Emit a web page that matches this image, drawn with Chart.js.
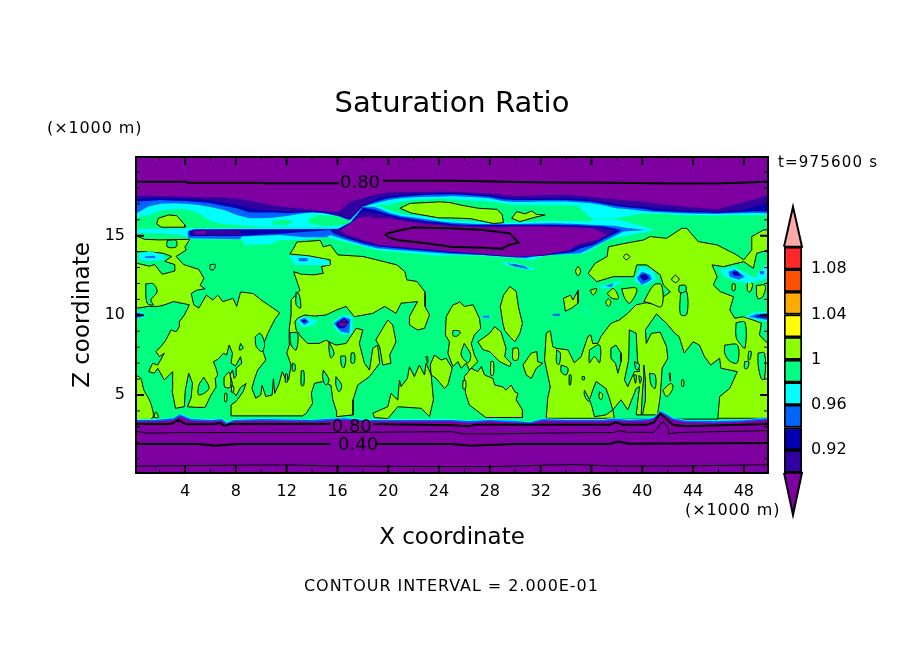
<!DOCTYPE html>
<html><head><meta charset="utf-8">
<script src="https://cdn.jsdelivr.net/npm/chart.js@4"></script>
<style>html,body{margin:0;padding:0;background:#fff;overflow:hidden}
#main{position:absolute;left:0;top:0}#bar{position:absolute;left:775px;top:200px}</style>
</head><body>
<canvas id="main" width="904" height="654"></canvas>
<canvas id="bar" width="100" height="325"></canvas>
<script>
// ---------- axis data ----------
const xMajor=[4,8,12,16,20,24,28,32,36,40,44,48];
const xMinor=[2,6,10,14,18,22,26,30,34,38,42,46];
const zMajor=[5,10,15];
const zMinor=[1,2,3,4,6,7,8,9,11,12,13,14,16,17,18,19];
const levels=[0.90,0.92,0.94,0.96,0.98,1.00,1.02,1.04,1.06,1.08,1.10];
const colorbarTicks=[0.92,0.96,1,1.04,1.08];
// ---------- upper band: z of the lower edge of each class at x = 0..50 km ----------
const xU=[0,1,2,3,4,5,6,7,8,9,10,11,12,13,14,15,16,17,18,19,20,21,22,23,24,25,26,27,28,29,30,31,32,33,34,35,36,37,38,39,40,41,42,43,44,45,46,47,48,49,50];
const uPurple=[17.38,17.38,17.36,17.34,17.32,17.3,17.28,17.26,17.2,17.07,16.91,16.74,16.66,16.58,16.49,16.43,16.37,17.01,17.22,17.43,17.57,17.59,17.61,17.61,17.63,17.63,17.59,17.55,17.51,17.43,17.36,17.38,17.4,17.43,17.43,17.38,17.32,17.22,17.16,17.07,17.01,16.91,16.8,16.74,16.66,16.6,16.53,16.74,16.95,17.16,17.43];
const uIndigo=[17.16,17.22,17.22,17.2,17.18,17.14,17.07,16.95,16.8,16.6,16.49,16.45,16.39,16.39,16.41,16.33,16.16,15.98,16.7,17.16,17.36,17.43,17.47,17.49,17.53,17.55,17.51,17.47,17.4,17.28,17.2,17.2,17.2,17.22,17.22,17.18,17.11,16.97,16.85,16.74,16.7,16.6,16.53,16.49,16.43,16.39,16.35,16.41,16.49,16.7,16.91];
const uDark=[17.01,17.05,17.11,17.07,17.05,16.99,16.91,16.74,16.6,16.33,16.33,16.33,16.29,16.33,16.37,16.29,16.14,15.87,16.7,17.01,17.22,17.32,17.38,17.43,17.45,17.47,17.43,17.38,17.32,17.16,17.11,17.11,17.11,17.11,17.11,17.07,17.01,16.87,16.74,16.64,16.58,16.45,16.41,16.37,16.33,16.33,16.29,16.33,16.37,16.41,16.39];
const uBlue=[16.25,16.7,16.87,16.91,16.87,16.8,16.66,16.49,16.18,15.98,15.98,16.02,16.12,16.25,16.33,16.29,16.08,15.77,16.7,16.91,17.11,17.22,17.28,17.32,17.32,17.36,17.32,17.28,17.22,17.05,16.99,16.99,17.01,17.01,17.01,16.97,16.91,16.78,16.6,16.53,16.45,16.37,16.33,16.29,16.27,16.25,16.25,16.27,16.29,16.31,16.29];
const uCyan=[15.98,16.18,16.45,16.53,16.53,16.29,15.77,15.62,15.56,15.5,15.42,15.42,15.42,15.42,15.42,15.42,15.35,15.35,16.7,16.8,16.8,17.01,17.11,17.16,17.2,17.16,17.11,17.07,17.01,16.91,16.8,16.8,16.8,16.8,16.8,16.74,15.98,15.98,15.98,16.14,16.25,16.25,16.25,16.18,16.16,16.16,16.14,16.16,16.18,16.18,16.16];
// ---------- lower lobes of the upper band (x,z pairs, km) ----------
const lCyan=[0,15.3,4.2,15.35,16,15.4,17,15.9,18,16.7,19,16.8,20,16.49,21,16.25,22,16.16,23,16.08,24,15.91,25,15.83,26,15.79,27,15.75,28,15.75,29,15.71,30,15.71,31,15.75,32,15.79,33,15.79,34,15.81,35,15.81,36,15.77,36.4,16,37,15.91,38,15.91,39,15.73,40,15.5,41.1,15.25,39.1,14.94,37.5,14.67,36.7,14.32,35.95,14.01,35.4,13.76,32.8,13.7,31.9,13.55,31.5,13.39,30.15,13.49,27.5,13.64,24.87,13.7,23.8,13.64,20.66,13.9,19.34,13.97,18,14.22,16.44,14.53,15.1,14.8,12.75,14.63,11.4,14.63,10.6,14.36,8.65,14.32,8.4,14.67,4.3,14.67,4,14.88,2.2,15.04,0,15.04];
const lBlue=[4.15,15.2,4.6,15.3,16,15.32,17,15.75,18,16.7,19,16.66,20,16.33,21,16.12,22,16.02,23,15.91,24,15.79,25,15.71,26,15.67,27,15.62,30,15.62,31,15.64,33,15.67,35,15.62,36,15.58,37,15.54,38,15.5,39,15.35,40.4,15.25,38.6,15.15,37.3,14.63,36,14.11,35.2,13.8,32.8,13.7,31.5,13.6,30.8,13.49,27.5,13.7,24.87,13.76,20.66,14,19.1,14.11,18,14.32,16.44,14.67,15.4,14.94,15.1,14.8,13.3,14.8,11.4,14.94,8.4,14.84,8.26,14.67,4.17,14.73,4.1,15];
const lDark=[4.2,15.15,4.7,15.28,16,15.3,17,15.7,18,16.65,19,16.49,20,16.22,21,16.04,22,15.91,23,15.79,24,15.73,25,15.62,26,15.58,29,15.56,30,15.58,33,15.58,34,15.56,35,15.54,36,15.5,37,15.46,38,15.33,38.45,15.21,37.3,14.8,36.2,14.32,35.2,14.11,34.63,13.9,32.25,13.64,30.15,13.55,24.87,13.84,20.66,14.11,19.2,14.22,18,14.42,16.7,14.73,15.65,15.04,15.4,15.25,11.95,15.04,8.26,14.88,4.3,14.88];
const lIndigoRight=[15.5,15.2,16,15.3,17,15.6,18,16.4,19,16.29,20,16.12,21,15.91,22,15.83,23,15.71,24,15.62,25,15.54,26,15.54,27,15.5,29,15.5,30,15.52,32,15.54,33,15.5,34,15.5,35,15.46,36,15.42,37,15.38,37.9,15.2,37.3,14.88,36.2,14.42,34.9,14.17,34.36,13.97,32.25,13.66,30.15,13.57,24.87,13.88,20.66,14.17,19.2,14.26,18,14.53,16.7,14.8,15.65,15.07];
const lIndigoLeft=[4.5,15.25,8.2,15.27,8.4,15.05,8.26,14.92,4.56,14.92];
const lPurpleRight=[16.2,15.2,16.45,15.35,17.5,15.98,18.5,16.08,19,15.98,20,15.98,21,15.83,22,15.71,23,15.62,24,15.56,25,15.46,26,15.46,27,15.42,29,15.42,30,15.46,32,15.46,33,15.44,34,15.42,35,15.4,36.2,15.35,37.27,14.94,36.47,14.63,34.9,14.32,34.36,14.01,32.25,13.7,30.15,13.59,24.87,13.93,20.66,14.22,19.2,14.32,18,14.63,16.97,14.88,16.44,15.09];
const lPurpleLeft=[4.6,15.15,5.6,15.18,5.5,14.98,4.7,14.98];
// ---------- 1.00 contour: lime areas ----------
const limeMain=[0,14.9,.7,14.67,1.9,14.63,4.3,14.67,3.9,14.2,4,14,3.2,13.6,3.8,13.1,5,12.8,5.4,12.25,5.1,11.8,5.5,11.6,4.8,11.5,4.4,11.3,4.6,10.6,5,10.4,5.6,11.2,6.1,10.9,6.5,11.2,6.9,10.8,7.7,11,8,10.5,8.3,11.4,9.3,11.3,10.1,10.8,10.5,10.6,11.4,10.1,11.06,9.76,10.45,8.83,10.2,8.3,10,7.9,10.3,7.17,9.66,6.55,9.4,5.99,9.2,5.4,9.5,4.8,9.9,5,10,5.6,10.3,4.9,10.8,5,10.9,6,11,5.1,11.35,5.7,11.6,6.45,11.9,5.93,12.1,5.93,12.3,6.86,11.96,7.6,12.2,8.2,12.15,9.1,12.3,9.97,12.3,10.9,13,11.5,12.5,12.66,13.1,12.5,14.1,12.46,14.85,12.56,14.7,12.97,15.4,13.08,15.4,13.39,13.8,13.63,12.2,13.76,12.5,14.1,12.75,14.5,14.6,14.6,14.85,14.2,15.4,14.32,16,13.7,18,13.6,20.66,13.08,21.3,12.66,21.45,12.15,22.25,12.05,22.9,11.4,22.9,10.5,23.25,9.97,22.85,9.14,22.3,9.04,21.66,9.35,21.66,9.86,22.3,10.8,21,10.7,20.6,10.07,19.7,10.5,18.76,10.07,17.3,9.86,16.65,10.5,15.9,10.28,15.07,9.97,14.15,9.9,13.35,9.97,12.8,9.76,12.6,9.55,12.7,9.04,13.1,8.6,13.6,8.2,14.5,8.2,15.05,8.4,15.85,8.1,16.65,8.2,17.45,9.14,17.97,9.04,17.7,8.2,18.1,6.97,18.5,6.55,18.76,7.9,19.15,8.1,19.3,6.97,18.5,6.14,17.57,5.62,17.2,4.7,17.2,3.76,15.9,3.65,15.9,3.96,15.6,4.7,15.45,5.6,14.8,5.83,14.15,5.72,13.9,5.1,14,4.48,13.5,3.86,13.2,3.7,7.55,3.7,7.55,4.38,7.95,4.6,8.5,5.2,8.74,5.72,8.3,5.47,7.95,4.94,7.8,5.1,7.55,5.2,7.66,5.72,7.47,6.24,7.66,6.55,7.8,6.03,8,6.24,7.95,6.66,8.4,6.97,8.3,7.38,7.9,6.8,7.55,6.97,7.66,7.59,7.4,8.1,7.2,7.48,6.95,7.59,6.5,7.21,6.15,7.07,6.36,6.66,6.5,6.24,6.3,6.03,6.36,5.48,5.97,5,5.5,4.23,4.78,4.23,4.1,4.27,4.38,4.8,4.5,5.72,4.2,6.35,3.93,5.3,3.85,4.27,3.15,4.17,2.88,5.3,2.93,6.45,2.27,5.93,1.75,6.66,1.48,6.35,1.03,6.45,1.35,6.97,1.75,6.86,2.27,7.59,1.88,7.38,1.6,7.7,2,8,2.4,8.42,2.8,9.04,3.2,8.93,3.46,9.24,3.46,9.55,3.86,9.97,4.25,10.6,3,10.8,2.3,10.6,1.8,10.5,1,10.5,.2,10.4,0,10.4,0,13.2,1.1,13,1.5,13.1,2.1,12.5,3.1,12.7,3.1,13.1,2.3,13.3,2.85,13.6,2.2,13.8,.9,13.9,0,13.9];
const limeRight=[35.8,12.56,36.35,13.18,37.3,13.6,37.4,14.2,38.6,14.4,40.2,14.63,40.7,14.84,42,14.73,43.2,15.35,43.6,15.35,44.5,14.53,46,14.32,47.55,13.7,48.1,13.39,48.74,14,48.74,14.84,49.67,15.25,50,15.25,50,3.55,32.48,3.55,32.6,4.8,32.8,5.5,32.35,7.17,32.48,8.83,32.8,9,33,8,33.26,7.9,34.2,7.8,34.7,7,35.24,7.38,35.77,8.62,36,8.73,36.16,8.2,36.56,8.2,36.8,8.62,37.2,9.04,37.6,9.45,38.27,9.66,38.93,10.07,39.6,10.6,40.4,10.73,41.2,10.6,41.5,10.9,41.75,11.1,42.3,11.4,41.75,11.83,41.5,12.46,40.43,13.08,39.64,13.08,39.4,12.35,37.8,12.35,36.47,12.04];
const limeCorner=[0,6.24,.4,6.03,.66,5.3,1.2,4.48,1.32,3.55,0,3.55];
const limeM=[24.57,9.86,25.1,10.6,25.5,10.7,25.6,10.8,26,10.5,26.7,10.6,27.2,9.76,27.3,9.14,26.8,8.73,26.55,8.2,26.8,7.48,27.07,7.07,26.4,6.55,26.15,6.97,25.75,6.66,25.5,7.07,25.1,6.76,24.7,7.6,24.83,8.3,24.5,8.73];
const limeB=[26,6.14,26.55,6.66,27.07,6.45,27.35,6.76,27.6,6.24,28.26,6.03,28.4,5.62,29.05,5.5,29.3,5.3,29.7,5.62,30,5.2,30.24,5.1,30.1,4.7,30.6,4.07,30.6,3.6,27.7,3.6,26.4,4.38,26.1,5.1];
const limeC=[23.3,6.86,23.64,7.48,24.17,7.17,24.57,7.28,25.04,6.66,24.7,5.62,24.43,5.41,23.77,6.03,23.38,6.24];
const limeD=[18.76,3.86,19.95,4.27,20.2,5.1,20.74,4.68,20.87,5.93,21,5.52,21.5,6.03,21.66,6.76,22.05,6.14,22.45,6.86,22.85,6.24,22.98,6.97,23.38,6.24,23.56,4.7,23.25,3.65,22.6,4.17,20.74,4.27,19.95,3.53,18.9,3.6];
const limeE=[19,8.42,19.95,9.66,20.34,9.35,20.6,8.3,20.1,7.48,20.2,6.97,19.55,6.86,19.3,8];
const limeG=[27.07,8.3,28,8.83,28.4,9.24,28.9,8.93,29.3,7.9,29.2,7.38,29.7,6.97,29.6,6.76,28.8,7.07,28,7.7,27.5,7.8];
const limeH=[28.85,10.5,29.1,11.2,29.6,11.73,30.1,11.45,30.3,10.4,30.6,9.45,30.4,8.83,30,8.3,29.6,8.62,29.2,9,29.05,9.45];
const limeBox=[29.85,7.9,30.24,7.9,30.24,7.2,29.85,7.2];
const limeJ=[30.64,6.86,31.3,7.6,31.74,7.7,31.8,7.07,32.2,6.97,31.7,6.66,31.3,6.03,30.9,6.24];
const limeK=[33.84,11,34.4,11.2,34.6,10.9,35,11.5,35,10.7,34.5,10.4,34,10.2];
const limeIsles=[[40.2,10.8,41,11.83,41.6,11.83,41.6,10.5,40.7,10.7],[38.45,11.6,39.64,11.6,39.1,10.7,38.7,11],[37.3,11.3,37.8,11.6,38.2,11,37.7,11],[35.95,11.5,36.47,11.6,36.2,11.2],[37.4,11,37.6,10.75,37.4,10.5,37.2,10.75],[35,13,35.2,12.7,35,12.4,34.8,12.7],[38.8,13.76,39.1,13.6,38.8,13.4,38.6,13.6],[42.7,12.44,43,12.2,42.7,11.98,42.4,12.2],[1.45,3.6,1.6,3.95,1.8,3.6]];
// mint holes inside lime
const mintHoles=[[2.5,14.6,3.2,14.6,3.2,14.2,2.5,14.2],[.8,11.9,1.4,11.9,1.7,11.4,1.2,10.9,1.4,10.6,.9,10.7],[5.9,13.1,6.3,13.1,6.2,12.8,5.9,12.8],[9.45,8.6,9.85,8.83,10.2,8.2,10,7.7,9.55,8],[12.2,8.87,12.8,8.83,12.7,7.8,12.3,8.1],[12.4,6.97,12.6,6.9,12.6,6.5,12.4,6.5],[5.4,6.1,5.8,5.4,5,5,5,5.6],[8.3,8.2,8.5,7.9,8.2,7.8],[14.85,6.55,15.3,5.93,15.05,5.62,14.8,6.03],[15.85,6.14,16.3,5.6,16.1,5.2,15.85,5.6],[15.3,8.3,15.7,7.6,15.45,7.3,15.3,7.8],[16.2,7.4,16.6,7.4,16.5,6.7,16.3,6.8],[13.1,6.5,13.3,6.5,13.3,5.6,13.1,5.6],[11.85,6.3,12,6.3,12,5.8,11.85,5.8],[12.7,11.4,12.95,11.2,13.05,10.4,12.7,10.6],[26,8.2,26.5,7.5,26.3,7,25.75,7.5],[25.1,9,25.5,9,25.7,8.9,25.4,8.65,25.1,8.7],[17.05,7.6,17.3,7.6,17.3,7,17.05,7],[43,11.8,43.5,11.8,43.5,11.4,43,11.4],[43.1,11.3,43.6,11.4,43.6,10,43.1,10],[37.6,7.9,38,8.1,38.4,7.6,38.4,7.07,38.15,6.35,37.96,6.97,37.6,7.28],[39.06,9.04,39.6,8.83,39.7,7.17,39.86,6.45,39.46,6.45,38.93,5.52,38.67,5.93,39,7.17],[40.2,6.86,40.33,5.93,40.33,4.7,40.1,3.76,39.99,3.76,40.07,4.9,40.17,5.93],[40.65,6.35,41.1,6.24,41.1,5.41,40.78,5.62],[39.46,7.07,39.86,6.86,39.7,6.55,39.54,6.66],[39.4,6.24,39.6,6.24,39.54,5.72],[39.8,6.2,40,6.1,39.9,5.72],[36.43,5.83,37.2,5.41,37.48,4.8,37.75,4.07,37.2,3.76,36.3,3.65,36.1,4.27,35.9,4.7,36.16,5.3],[37.88,3.5,37.75,4.07,38.4,4.7,38.93,4.07,39.6,5.41,39.86,5.52,39.6,3.76,41.2,3.76,41.3,3.5],[35.5,5.3,35.9,4.7,35.8,4.6,35.5,5],[34.3,6.24,34.45,6.24,34.4,5.62,34.3,5.62],[33.66,6.86,34.2,6.66,34.05,6.24,33.66,6.45],[35.33,6.14,35.5,6.14,35.5,5.95,35.33,5.95],[33.3,7.8,33.6,7.6,33.5,6.9,33.3,7],[35.9,7.8,36.7,8.1,36.7,7,36.3,7.38,35.9,7],[48.17,7.07,48.5,7.07,48.4,6.66,48.17,6.66],[48.5,7.7,48.7,7.7,48.6,7.2,48.45,7.2],[49.24,7.6,49.75,7.6,49.75,6,49.5,6,49.24,6.9],[46.6,8.1,47.6,8.1,47.6,7,47,7.1,46.6,7.6],[47.5,9.5,48.2,9.5,48.2,7.9,47.8,8.2,47.5,8.6],[41.3,3.5,41.3,3.86,41.5,4.9,41.65,6.66,42.1,7.28,42,8,41.5,8.9,40.8,8.83,40.4,8.2,40.33,9.04,41.2,10.03,42,9.45,42.65,8.83,43,8.62,43.4,7.6,44.1,8.3,44.6,8.1,45,7.38,45.5,6.86,46.2,7.28,46.3,6.66,47.6,6.45,47,5.41,46.2,4.9,46.05,3.5],[50,14,49.13,13.8,48.87,12.87,48.1,13.28,46.5,12.97,45.6,13.08,46,12.35,45.7,11.83,46.25,11.42,47.3,11.1,47,10.28,47.4,9.76,48.04,9.86,48.83,9.66,49.5,9.45,49.35,8.73,50,8.2]];
const limeAfterHoles=[[7,6.1,7.4,6.4,7.5,5.5,7.05,5.5],[7.6,5.55,7.75,5.55,7.75,5.2,7.6,5.2],[7.05,5.1,7.2,5.1,7.2,4.6,7.05,4.6],[48.4,12.05,48.8,11.9,48.6,11.4,48.4,11.5],[49.1,11.8,49.8,11.8,49.6,11.1,49.2,11],[47.2,11.9,47.4,11.9,47.4,11.5,47.2,11.5],[36.7,5.2,36.95,5,36.8,4.7,36.65,4.9],[28.1,7.07,28.3,7.07,28.3,6.24,28.1,6.24],[25.9,5.9,26.1,5.9,26.1,5.4,25.9,5.4],[22.96,7.38,23.1,7.38,23.1,6.97],[41.7,5.3,42.36,5.72,42.5,5.41,42,4.9],[42.2,6.35,42.3,6.35,42.3,5.85],[43.2,5.93,43.35,5.93,43.35,5.55,43.2,5.55]];
// low-value pockets in the mid troposphere
const cyanPockets=[[.2,13.8,1.1,13.95,2.2,13.7,2.3,13.4,1.1,13.3,.35,13.4],[12.1,13.64,13.3,13.64,15.1,13.4,15.4,13.08,12.6,13.08],[12.75,9.66,13.2,9.86,14.4,9.62,13.9,9.28,13.1,9.24],[15.6,9.55,16.4,9.97,17.15,9.87,17.15,8.83,16.4,8.73,15.85,9.04],[28.8,13.28,30.15,13.18,31.7,12.8,31.07,12.76,29.35,13.08],[36.6,11.75,37.8,11.96,38.6,12.15,37.8,11.7,36.9,11.6],[39.4,12.1,39.93,13,40.97,12.7,41.2,12.15,40.2,11.75],[46.2,12.77,47.3,12.97,48.1,12.66,49,12.25,49.8,13.08,50,13,50,12.25,48.6,11.94,47.55,12.04,46.6,12.35],[27.3,9.86,28,9.97,28.1,9.76,27.4,9.76],[35.5,10.3,35.8,10.3,35.8,10.2,35.5,10.2],[48.17,9.86,48.83,10.1,50,10.18,50,9.55,49.1,9.66],[0,10.2,.7,10.1,.7,9.8,0,9.75]];
const bluePockets=[[.75,13.6,1.5,13.65,1.6,13.5,.75,13.5],[12.9,13.5,13.6,13.5,13.6,13.3,12.9,13.3],[12.95,9.66,13.35,9.8,13.75,9.55,13.35,9.35],[15.65,9.45,16.45,9.87,17,9.7,16.9,8.83,16.25,8.93],[29.35,13.18,30.7,13.02,31.2,12.8,29.9,13],[37.13,11.77,37.8,11.94,37.66,11.7],[39.64,12.25,40.05,12.66,40.7,12.46,40.83,12.15,40.05,11.83],[46.9,12.66,47.4,12.8,48.2,12.35,47.7,12.15,47,12.35],[49.4,12.7,49.7,12.7,49.7,12.5,49.4,12.5],[27.45,9.9,27.95,9.93,28,9.8,27.5,9.8],[33,10.05,33.55,10.05,33.55,9.9,33,9.9],[48.5,9.86,49.1,10.03,50,10.08,50,9.66,49.1,9.76],[0,10.15,.5,10.05,.5,9.85,0,9.8]];
const darkPockets=[[13.15,9.65,13.5,9.7,13.5,9.5,13.15,9.5],[15.85,9.45,16.5,9.76,16.9,9.55,16.5,9.14,16,9.14],[39.85,12.4,40.3,12.56,40.65,12.25,40.17,12.08],[47.15,12.6,47.55,12.72,47.95,12.4,47.4,12.4],[49,9.9,50,10.03,50,9.76,49.1,9.84],[29.8,13.14,30.5,13.04,30.1,13.02]];
const purplePockets=[[16,9.4,16.5,9.66,16.85,9.5,16.4,9.24],[49.5,9.93,50,10,50,9.82,49.6,9.86],[0,10.1,.3,10,0,9.88]];
// mint gaps and lime lenses inside the upper band
const mintPatches=[[13.55,15.87,14.3,16.18,15.9,16.14,17.1,15.77,16.45,15.56,15.1,15.5,13.8,15.62],[10.77,15.77,11.7,15.9,12.5,15.77,11.95,15.56,10.9,15.56]];
const limeLensCentre=[20.9,16.6,21.7,16.9,24.1,17,24.87,16.95,25.7,16.8,27.1,16.6,28.6,16.53,29,16.2,29.1,15.7,28.3,15.65,26.5,15.95,24.9,16,24,16,21.8,16.3];
const limeLensRight=[29.75,15.98,30.15,16.39,30.8,16.25,31.33,16.43,31.7,16.22,32.4,16.18,31.6,16.04,30.4,15.77];
const limeLensLeft=[1.8,15.98,2.6,16.18,3.25,16.14,3.9,15.56,3.9,15.42,2.05,15.42,1.66,15.62];
// ---------- lower band: top of each class ----------
const xBand=[0,1.5,3,3.5,3.8,4.4,6,6.8,7.2,7.8,10,14,15,16.5,18,22,25,26.4,28,30.1,31.2,32.2,34,37,37.8,39,40.5,41,41.5,42,42.5,43.5,46,48,50];
const bandCyan=[3.5,3.5,3.6,3.85,3.75,3.55,3.5,3.55,3.32,3.5,3.55,3.48,3.55,3.6,3.5,3.5,3.5,3.42,3.5,3.42,3.34,3.55,3.5,3.5,3.58,3.5,3.55,3.65,4.05,3.85,3.6,3.45,3.42,3.48,3.62];
const bandBlue=[3.45,3.45,3.55,3.8,3.7,3.5,3.45,3.5,3.28,3.45,3.5,3.44,3.5,3.55,3.45,3.45,3.45,3.38,3.45,3.38,3.3,3.5,3.45,3.45,3.53,3.45,3.5,3.6,4,3.8,3.55,3.4,3.38,3.43,3.57];
const bandPurple=[3.36,3.36,3.45,3.68,3.58,3.4,3.36,3.4,3.2,3.36,3.4,3.35,3.4,3.44,3.36,3.36,3.36,3.28,3.36,3.28,3.22,3.4,3.36,3.36,3.42,3.36,3.4,3.5,3.88,3.7,3.45,3.3,3.28,3.33,3.46];
// ---------- labelled and unlabelled contours ----------
const c80TopA=[0,18.25,4,18.25,4.1,18.19,10,18.19,10.1,18.15,16.1,18.15];
const c80TopB=[19.6,18.3,25,18.3,31.4,18.21,37.8,18.19,42.5,18.13,46.5,18.15,50,18.25];
const c80Lens=[19.74,15,20.66,15.19,22,15.4,24.9,15.35,27.5,15.25,29.6,15.04,30.3,14.46,29.5,14.32,29,14.09,27.5,14.15,24.9,14.2,23,14.42,20.66,14.63,20,14.8];
const c80LowA=[0,3.2,2.8,3.2,3.4,3.45,4,3.18,6.2,3.2,6.7,3.25,7,3.08,7.5,3.2,15.4,3.2];
const c80LowB=[18.8,3.2,25,3.12,26.4,3.05,26.8,3.15,37.5,3.15,38,3.3,38.5,3.15,40.5,3.15,41,3.3,41.5,3.85,42.5,3.15,43.5,3.05,50,3.2];
const c60Low=[0,2.75,1,2.62,3,2.66,6,2.66,15,2.66,25,2.72,26,2.58,28,2.58,35.5,2.66,37.8,2.66,38.3,2.79,38.9,2.68,41,2.68,41.7,3.34,42.1,3.03,42.2,2.58,42.8,2.66,46,2.72,50,2.79];
const c40LowA=[0,1.96,5,1.95,6.3,1.85,8,1.95,15.4,1.95];
const c40LowB=[19,1.96,25,1.95,26.5,1.85,30,1.95,37.5,1.95,38.2,2.1,39,1.97,50,2.02];
const c20Low=[0,.58,5,.62,12,.65,16,.58,25,.55,28.3,.55,34.6,.68,38,.58,42,.58,50,.66];
const pocketLine=[16.25,9.5,16.75,9.5];
const contourLabels=[["0.80",17.75,18.14],["0.80",17.1,3.02],["0.40",17.6,1.84]];

const PURPLE='#7f00a0',INDIGO='#3000a0',DARK='#0000b0',BLUE='#0064ff',CYAN='#00ffff',MINT='#00ff80',LIME='#8cff00';
const barColors=[INDIGO,DARK,BLUE,CYAN,MINT,LIME,'#ffff00','#ffaa00','#ff5000','#ff2828'];
const FONT='"DejaVu Sans"';

// readings were taken on a slightly different graticule; these align them with the axis ticks
const calX=v=>0.11+v*0.9953;
const calZ=v=>5+(v-5)*1.0107;
function pairs(f){const o=[];for(let i=0;i<f.length;i+=2)o.push({x:calX(f[i]),y:calZ(f[i+1])});return o;}
function closed(f){const o=pairs(f);o.push(o[0]);return o;}
const layers=[];
function base(extra){return Object.assign({pointRadius:0,tension:0,borderJoinStyle:'miter',borderCapStyle:'butt'},extra);}
function poly(f,color,line){layers.push(base({data:closed(f),fill:'shape',backgroundColor:color,borderColor:line?'#000':color,borderWidth:line?1:0,tension:(line&&f.length<=12)?0.35:0}));}
function series(xs,zs){return xs.map((x,i)=>({x:calX(x),y:calZ(zs[i])}));}
function topBand(xs,zs,color){layers.push(base({data:series(xs,zs),fill:'end',backgroundColor:color,borderWidth:0,borderColor:color}));}
function lowBand(xs,zs,color){layers.push(base({data:series(xs,zs),fill:'start',backgroundColor:color,borderWidth:0,borderColor:color}));}
function stroke(f,w){layers.push(base({data:pairs(f),fill:false,borderColor:'#000',borderWidth:w}));}

lowBand([-1,51],[20.5,20.5],MINT);
[limeMain,limeRight,limeCorner,limeM,limeB,limeC,limeD,limeE,limeG,limeH,limeBox,limeJ,limeK].forEach(p=>poly(p,LIME,true));
limeIsles.forEach(p=>poly(p,LIME,true));
mintHoles.forEach(p=>poly(p,MINT,true));
limeAfterHoles.forEach(p=>poly(p,LIME,true));
cyanPockets.forEach(p=>poly(p,CYAN));
bluePockets.forEach(p=>poly(p,BLUE));
darkPockets.forEach(p=>poly(p,DARK));
purplePockets.forEach(p=>poly(p,PURPLE));
topBand(xU,uCyan,CYAN);topBand(xU,uBlue,BLUE);topBand(xU,uDark,DARK);topBand(xU,uIndigo,INDIGO);topBand(xU,uPurple,PURPLE);
poly(lCyan,CYAN);poly(lBlue,BLUE);poly(lDark,DARK);poly(lIndigoRight,INDIGO);poly(lIndigoLeft,INDIGO);poly(lPurpleRight,PURPLE);poly(lPurpleLeft,PURPLE);
mintPatches.forEach(p=>poly(p,MINT));
poly(limeLensCentre,LIME,true);poly(limeLensRight,LIME,true);poly(limeLensLeft,LIME,true);
lowBand(xBand,bandCyan,CYAN);lowBand(xBand,bandBlue,BLUE);lowBand(xBand,bandPurple,PURPLE);
stroke(c80TopA,2);stroke(c80TopB,2);layers.push(base({data:closed(c80Lens),fill:false,borderColor:'#000',borderWidth:2}));
stroke(c80LowA,2);stroke(c80LowB,2);stroke(c60Low,1);stroke(c40LowA,2);stroke(c40LowB,2);stroke(c20Low,1);stroke(pocketLine,1);
layers.forEach((d,i)=>{d.order=layers.length-i;});

function text(ctx,s,x,y,size,spacing){ctx.font=size+'px '+FONT;ctx.letterSpacing=(spacing||0)+'px';ctx.fillText(s,x,y);ctx.letterSpacing='0px';}
const framePlugin={id:'frame',afterDatasetsDraw(c){
  const {ctx,chartArea:a,scales:{x,y}}=c;ctx.save();ctx.strokeStyle='#000';
  const tick=(v,len,w)=>{ctx.lineWidth=w;ctx.beginPath();
    const p=x.getPixelForValue(v);ctx.moveTo(p,a.top);ctx.lineTo(p,a.top+len);ctx.moveTo(p,a.bottom);ctx.lineTo(p,a.bottom-len);ctx.stroke();};
  const tickY=(v,len,w)=>{ctx.lineWidth=w;ctx.beginPath();
    const p=y.getPixelForValue(v);ctx.moveTo(a.left,p);ctx.lineTo(a.left+len,p);ctx.moveTo(a.right,p);ctx.lineTo(a.right-len,p);ctx.stroke();};
  xMajor.forEach(v=>tick(v,8,2));xMinor.forEach(v=>tick(v,4,1));
  zMajor.forEach(v=>tickY(v,8,2));zMinor.forEach(v=>tickY(v,4,1));
  ctx.lineWidth=2;ctx.strokeRect(a.left,a.top,a.right-a.left,a.bottom-a.top);
  ctx.fillStyle='#000';ctx.textBaseline='middle';ctx.textAlign='center';
  contourLabels.forEach(([s,vx,vz])=>text(ctx,s,x.getPixelForValue(calX(vx)),y.getPixelForValue(calZ(vz)),18,0));
  ctx.textAlign='left';
  text(ctx,'(×1000 m)',47,129,16,.9);
  text(ctx,'(×1000 m)',685,511,16,.9);
  text(ctx,'t=975600 s',778,163,15,1.2);
  text(ctx,'CONTOUR INTERVAL = 2.000E-01',304,587,16,.95);
  ctx.restore();
}};
new Chart(document.getElementById('main'),{type:'line',data:{datasets:layers},plugins:[framePlugin],options:{
  responsive:false,animation:false,events:[],
  layout:{padding:{left:0,right:0,top:0,bottom:102}},
  plugins:{legend:{display:false},tooltip:{enabled:false},
    title:{display:true,text:'Saturation Ratio',color:'#000',font:{family:FONT,size:29,weight:'normal',lineHeight:1.2},padding:{top:87,bottom:35.2}}},
  scales:{
    x:{type:'linear',min:0.14,max:49.9,grid:{display:false,drawTicks:false},border:{display:false},
      afterBuildTicks(s){s.ticks=xMajor.map(value=>({value}));},
      afterFit(s){s.height=79;s.paddingLeft=0;s.paddingRight=0;},
      ticks:{autoSkip:false,maxRotation:0,color:'#000',padding:9,font:{family:FONT,size:16}},
      title:{display:true,text:'X coordinate',color:'#000',font:{family:FONT,size:23},padding:0}},
    y:{type:'linear',min:0.10,max:19.94,grid:{display:false,drawTicks:false},border:{display:false},
      afterBuildTicks(s){s.ticks=zMajor.map(value=>({value}));},
      afterFit(s){s.width=136;s.paddingTop=0;s.paddingBottom=0;},
      ticks:{autoSkip:false,color:'#000',padding:11,font:{family:FONT,size:16}},
      title:{display:true,text:'Z coordinate',color:'#000',font:{family:FONT,size:23},padding:{top:69,bottom:0}}},
    yRight:{type:'linear',position:'right',min:0,max:1,grid:{display:false,drawTicks:false},border:{display:false},
      ticks:{display:false},afterBuildTicks(s){s.ticks=[];},afterFit(s){s.width=136;s.paddingTop=0;s.paddingBottom=0;}}
  }}});

// colour bar: one floating bar per contour class, plus the two over/under-range arrows
const barSets=barColors.map((c,i)=>({type:'bar',data:[[levels[i],levels[i+1]]],backgroundColor:c,borderColor:'#000',borderWidth:2,grouped:false,barPercentage:1,categoryPercentage:1,borderSkipped:false,xAxisID:'x',order:2}));
const arrowTop=[0,1.10,.5,1.1354,1,1.10];
const arrowLow=[0,0.90,.5,0.8626,1,0.90];
function plainPairs(f){const o=[];for(let i=0;i<f.length;i+=2)o.push({x:f[i],y:f[i+1]});o.push(o[0]);return o;}
[[arrowTop,'#ffaaaa'],[arrowLow,PURPLE]].forEach(([f,c])=>barSets.push({type:'line',data:plainPairs(f),xAxisID:'tx',fill:'shape',backgroundColor:c,borderColor:'#000',borderWidth:2,pointRadius:0,tension:0,order:1,clip:false}));
new Chart(document.getElementById('bar'),{data:{labels:[''],datasets:barSets},options:{
  responsive:false,animation:false,events:[],
  layout:{padding:{left:9,top:6.7,bottom:10,right:0}},
  plugins:{legend:{display:false},tooltip:{enabled:false}},
  scales:{x:{display:false},tx:{type:'linear',min:0,max:1,display:false},
    y:{position:'right',min:0.8626,max:1.1354,grid:{display:false,drawTicks:false},border:{display:false},
      afterBuildTicks(s){s.ticks=colorbarTicks.map(value=>({value}));},
      afterFit(s){s.width=73;s.paddingTop=0;s.paddingBottom=0;},
      ticks:{autoSkip:false,color:'#000',padding:9,font:{family:FONT,size:16},callback:v=>v===1?'1':v.toFixed(2)}}}
}});
</script>
</body></html>
